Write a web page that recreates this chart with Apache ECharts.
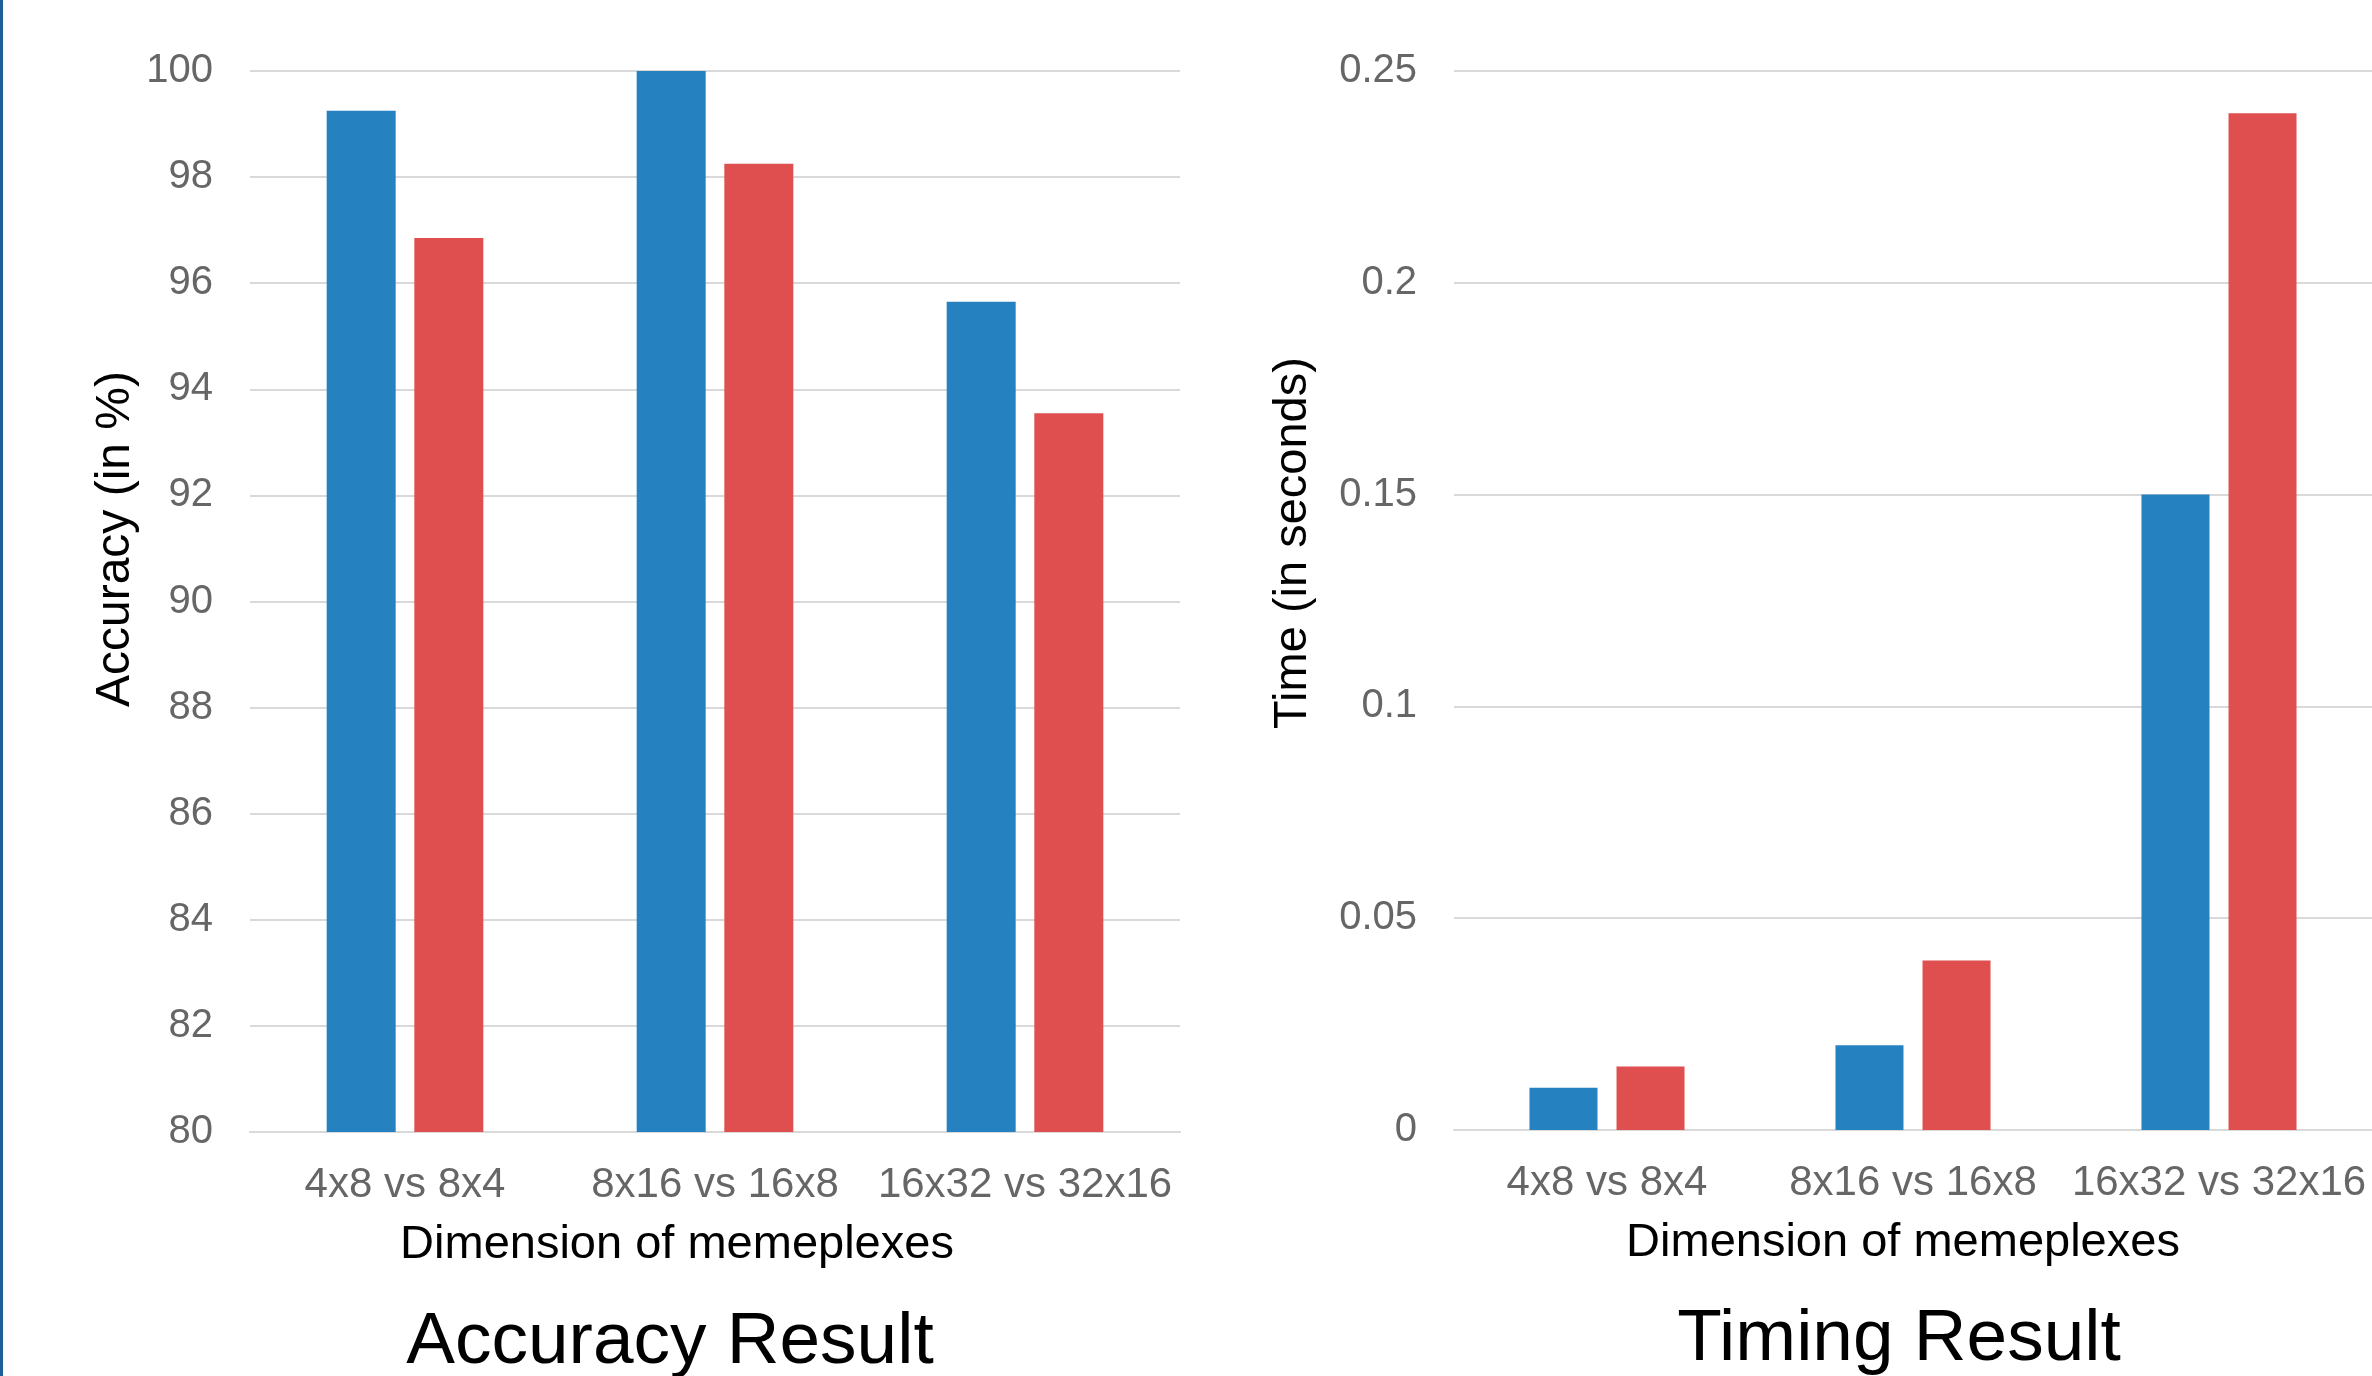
<!DOCTYPE html>
<html>
<head>
<meta charset="utf-8">
<script src="https://cdn.jsdelivr.net/npm/echarts@6/dist/echarts.min.js"></script>
<style>
html,body{margin:0;padding:0;background:#fff;}
#c{width:2372px;height:1376px;}
</style>
</head>
<body>
<div id="c"></div>
<script>
const categories = ['4x8 vs 8x4', '8x16 vs 16x8', '16x32 vs 32x16'];
const accuracyBlue = [99.25, 100, 95.65];
const accuracyRed = [96.85, 98.25, 93.55];
const timingBlue = [0.01, 0.02, 0.15];
const timingRed = [0.015, 0.04, 0.24];
const accuracyTicks = { min: 80, max: 100, interval: 2 };
const timingTicks = { min: 0, max: 0.25, interval: 0.05 };
const xAxisName = 'Dimension of memeplexes';
const accuracyAxisName = 'Accuracy (in %)';
const timingAxisName = 'Time (in seconds)';

const FONT = '"Liberation Sans", Arial, sans-serif';
const BLUE = '#2581c0';
const RED = '#df4f4f';
const GRID = '#d9d9d9';
const LABEL = '#666666';

const chart = echarts.init(document.getElementById('c'), null, { renderer: 'canvas' });

function xAxis(gridIndex) {
  return {
    type: 'category', gridIndex: gridIndex, data: categories,
    axisLine: { show: true, lineStyle: { color: GRID, width: 2 } },
    axisTick: { show: false },
    axisLabel: { color: LABEL, fontSize: 42, fontFamily: FONT, margin: 32, interval: 0 }
  };
}
function yAxis(gridIndex, ticks) {
  return {
    type: 'value', gridIndex: gridIndex, min: ticks.min, max: ticks.max, interval: ticks.interval,
    axisLine: { show: false }, axisTick: { show: false },
    splitLine: { show: true, lineStyle: { color: GRID, width: 2 } },
    axisLabel: { color: LABEL, fontSize: 40, fontFamily: FONT, margin: 37 }
  };
}
function label(text, x, y, size, rotate) {
  return {
    type: 'text', x: x, y: y, rotation: rotate ? Math.PI / 2 : 0,
    style: { text: text, fill: '#000', font: size + 'px ' + FONT, textAlign: 'center', textVerticalAlign: 'middle' }
  };
}

chart.setOption({
  animation: false,
  backgroundColor: '#fff',
  graphic: [
    { type: 'rect', shape: { x: 0, y: 0, width: 3, height: 1376 }, style: { fill: '#1f5f97' } },
    label(xAxisName, 677, 1245, 47, false),
    label(xAxisName, 1903, 1243, 47, false),
    label(accuracyAxisName, 116, 539, 48, true),
    label(timingAxisName, 1293, 543, 47, true),
    label('Accuracy Result', 670, 1343, 73, false),
    label('Timing Result', 1899, 1340, 73, false)
  ],
  grid: [
    { left: 250, width: 930, top: 71, bottom: 244 },
    { left: 1454, width: 921, top: 71, bottom: 246 }
  ],
  xAxis: [xAxis(0), xAxis(1)],
  yAxis: [yAxis(0, accuracyTicks), yAxis(1, timingTicks)],
  series: [
    { type: 'bar', xAxisIndex: 0, yAxisIndex: 0, data: accuracyBlue, barWidth: 69, barGap: '27%',
      itemStyle: { color: BLUE } },
    { type: 'bar', xAxisIndex: 0, yAxisIndex: 0, data: accuracyRed, barWidth: 69, barGap: '27%',
      itemStyle: { color: RED } },
    { type: 'bar', xAxisIndex: 1, yAxisIndex: 1, data: timingBlue, barWidth: 68, barGap: '28%',
      itemStyle: { color: BLUE } },
    { type: 'bar', xAxisIndex: 1, yAxisIndex: 1, data: timingRed, barWidth: 68, barGap: '28%',
      itemStyle: { color: RED } }
  ]
});
</script>
</body>
</html>
